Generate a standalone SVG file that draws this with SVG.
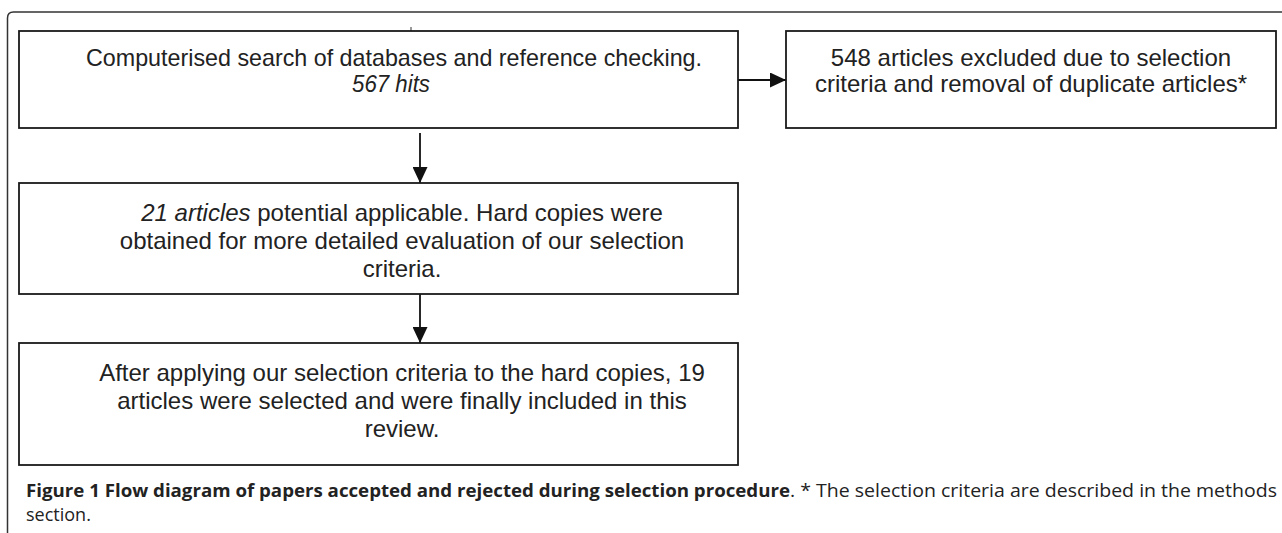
<svg xmlns="http://www.w3.org/2000/svg" width="1282" height="533" viewBox="0 0 1282 533">
<defs>
<style>
.box{fill:#fff;stroke:#1a1a1a;stroke-width:1.8}
.t{font-family:"Liberation Sans",Arial,sans-serif;font-size:24px;fill:#222;text-anchor:middle}
.it{font-style:italic}
.conn{stroke:#111;stroke-width:1.8;fill:none}
.cap{font-family:"Open Sans","Noto Sans",sans-serif;font-size:18px;fill:#222}
.b{font-weight:bold}
</style>
<marker id="ah" markerUnits="userSpaceOnUse" markerWidth="16" markerHeight="15" refX="16" refY="7.5" orient="auto">
<path d="M0,0 L16,7.5 L0,15 z" fill="#111"/>
</marker>
</defs>
<rect width="1282" height="533" fill="#fff"/>
<path d="M7.5,533 V18 Q7.5,12 13.5,12 H1282" fill="none" stroke="#333" stroke-width="1.5"/>
<line x1="411" y1="27" x2="411" y2="31" stroke="#333" stroke-width="1"/>
<g id="connectors">
<line class="conn" x1="738" y1="80" x2="786" y2="80" marker-end="url(#ah)"/>
<line class="conn" x1="420" y1="133" x2="420" y2="183" marker-end="url(#ah)"/>
<line class="conn" x1="420" y1="294" x2="420" y2="343" marker-end="url(#ah)"/>
</g>
<g id="node-search">
<rect class="box" x="19" y="31" width="719" height="97"/>
<text class="t" x="394" y="66" textLength="616" lengthAdjust="spacingAndGlyphs">Computerised search of databases and reference checking.</text>
<text class="t it" x="391" y="92" textLength="78" lengthAdjust="spacingAndGlyphs">567 hits</text>
</g>
<g id="node-excluded">
<rect class="box" x="786" y="31" width="490" height="97"/>
<text class="t" x="1031" y="66">548 articles excluded due to selection</text>
<text class="t" x="1031" y="92">criteria and removal of duplicate articles*</text>
</g>
<g id="node-potential">
<rect class="box" x="19" y="183" width="719" height="111"/>
<text class="t" x="402" y="221"><tspan class="it">21 articles</tspan> potential applicable. Hard copies were</text>
<text class="t" x="402" y="249">obtained for more detailed evaluation of our selection</text>
<text class="t" x="402" y="277">criteria.</text>
</g>
<g id="node-included">
<rect class="box" x="19" y="343" width="719" height="122"/>
<text class="t" x="402" y="381">After applying our selection criteria to the hard copies, 19</text>
<text class="t" x="402" y="409">articles were selected and were finally included in this</text>
<text class="t" x="402" y="437">review.</text>
</g>
<g id="caption">
<text class="cap b" x="26" y="497" textLength="764" lengthAdjust="spacingAndGlyphs">Figure 1 Flow diagram of papers accepted and rejected during selection procedure</text>
<text class="cap" x="790" y="497" textLength="487" lengthAdjust="spacingAndGlyphs">. * The selection criteria are described in the methods</text>
<text class="cap" x="26" y="521">section.</text>
</g>
</svg>
